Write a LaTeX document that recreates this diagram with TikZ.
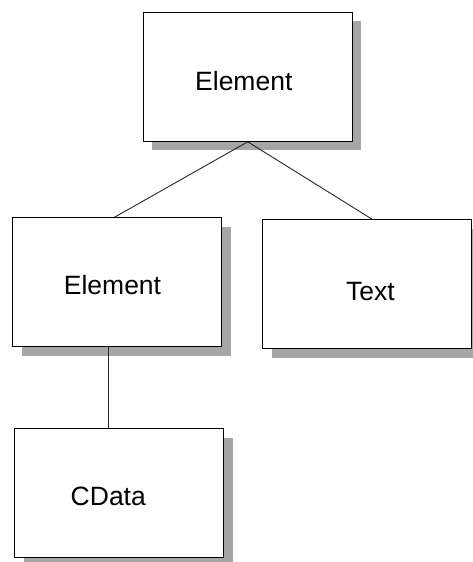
\documentclass[tikz,border=0pt]{standalone}
\usepackage{fontspec}
\setmainfont{Liberation Sans}
\usetikzlibrary{calc,shadows}
\definecolor{shadowgray}{HTML}{A6A6A6}
\tikzset{
  box/.style={draw=black, line width=1.1pt, fill=white, anchor=north west,
    minimum width=209pt, minimum height=129pt, inner sep=0pt,
    drop shadow={shadow xshift=9pt, shadow yshift=-9pt, fill=shadowgray, opacity=1}},
  lbl/.style={font=\fontsize{26.5pt}{31pt}\selectfont, anchor=base, inner sep=0pt},
  link/.style={draw=black!85, line width=0.9pt}
}
\begin{document}
\begin{tikzpicture}[x=1pt,y=1pt]
  \useasboundingbox (0,0) rectangle (472,-562);
  % boxes
  \node[box] (root)  at (142.7,-11.7) {};
  \node[box] (child) at (12.3,-217.3) {};
  \node[box] (text)  at (262.3,-219) {};
  \node[box] (cdata) at (14,-428.3) {};
  % labels
  \node[lbl] (rootlbl)  at (243.8,-90) {Element};
  \node[lbl] (childlbl) at (112.5,-294.3) {Element};
  \node[lbl] (textlbl)  at (370.5,-300.7) {Text};
  \node[lbl] (cdatalbl) at (108.3,-505.7) {CData};
  % connectors
  \coordinate (childtop) at ($(child.north west)!0.486!(child.north east)$);
  \coordinate (texttop)  at ($(text.north west)!0.521!(text.north east)$);
  \coordinate (childbot) at ($(child.south west)!0.46!(child.south east)$);
  \draw[link] (root.south) -- (childtop);
  \draw[link] (root.south) -- (texttop);
  \draw[link] (childbot) -- (childbot |- cdata.north);
\end{tikzpicture}
\end{document}
